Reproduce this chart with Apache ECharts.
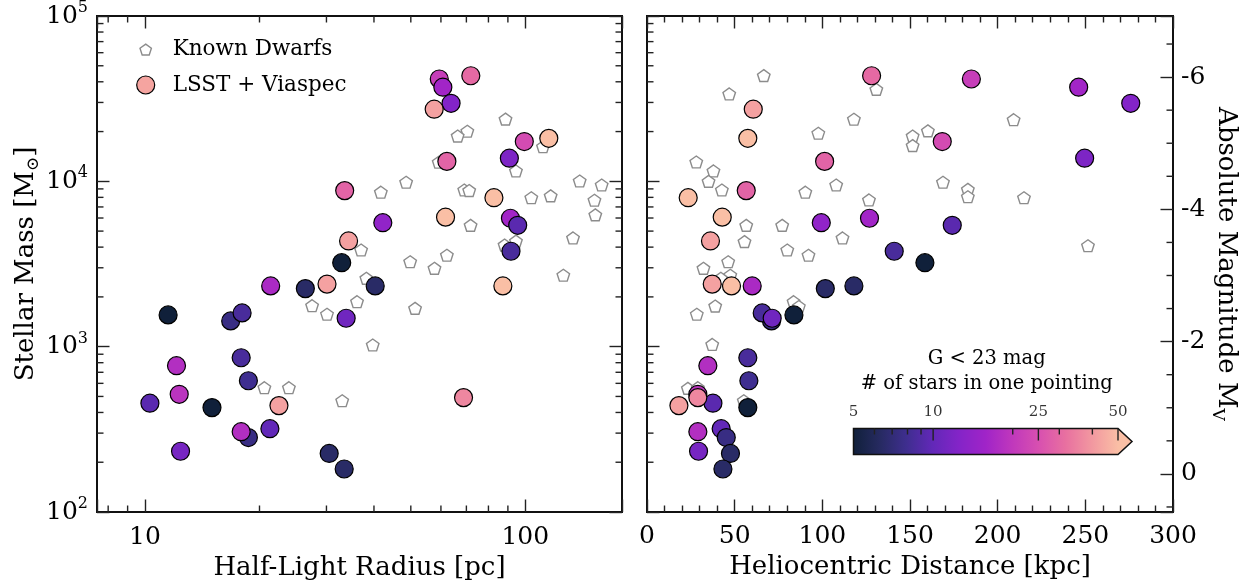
<!DOCTYPE html>
<html>
<head>
<meta charset="utf-8">
<script src="https://cdn.jsdelivr.net/npm/echarts@6/dist/echarts.min.js"></script>
<style>
  html, body { margin: 0; padding: 0; background: #fff; }
  #chart { width: 1250px; height: 581px; }
</style>
</head>
<body>
<div id="chart"></div>
<script>
// ---- LSST + Viaspec candidates ----
const lsstMass = [41600, 43500, 37100, 29650, 27300, 17400, 18200, 13800, 13200, 8790,
                  7960, 6070, 5620, 5980, 5420, 4360, 3777, 3220, 2390, 2330,
                  2330, 2245, 2330, 1556, 1431, 1600, 1485, 857, 767, 622,
                  515, 455, 428, 440, 319, 282, 306, 233, 226, 182, 492];
const lsstRh = [59.4, 71.9, 60.7, 63.8, 57.6, 99.4, 115.3, 90.8, 62.2, 33.5,
                82.7, 61.7, 42.2, 91.4, 95.5, 34.3, 91.7, 32.9, 30.1, 87.3,
                21.4, 26.4, 40.3, 11.5, 16.8, 18.0, 33.8, 17.9, 12.1, 18.7,
                12.3, 10.3, 15.0, 22.5, 21.3, 18.7, 17.9, 12.4, 30.5, 33.4, 68.8];
const lsstDist = [185.0, 128.1, 246.2, 275.9, 60.6, 168.4, 57.5, 249.6, 101.3, 56.6,
                  23.5, 42.9, 99.4, 126.9, 174.1, 36.2, 141.0, 158.5, 37.2, 48.2,
                  60.0, 101.7, 118.0, 83.8, 71.0, 65.7, 71.4, 57.5, 34.7, 58.1,
                  29.0, 37.6, 57.5, 18.2, 42.3, 45.2, 29.0, 29.4, 47.6, 43.3, 29.0];
// number of G < 23 stars in one pointing
const lsstStars = [21, 30, 16, 12.5, 42, 24, 55, 12, 29, 29,
                   55, 55, 14, 16, 9.5, 42, 8.5, 5, 42, 55,
                   17, 6.5, 6.5, 5, 7.5, 8.5, 11, 8.5, 18, 8,
                   19, 9.5, 5, 42, 10, 7.5, 18, 11.5, 6.5, 6.5, 36];

// ---- Known dwarfs: size panel ----
const knownRh = [88.7, 70.4, 66.4, 111.3, 59.2, 94.5, 139, 48.6, 158.8, 69.1,
                 71.2, 41.7, 116.6, 103.7, 152, 152.8, 71.8, 133.5, 94.5, 88.2,
                 37.0, 62.2, 49.8, 57.7, 125.9, 38.2, 36.1, 27.5, 51.3, 30.1,
                 39.7, 20.6, 23.9, 33.0];
const knownMassRh = [23800, 20100, 18800, 16200, 13050, 11560, 10050, 9880, 9510, 8870,
                     8800, 8600, 8170, 7960, 7690, 6270, 5420, 4550, 4350, 4120,
                     3845, 3575, 3265, 2980, 2705, 2593, 1871, 1771, 1706, 1571,
                     1024, 565, 565, 471];

// ---- Known dwarfs: distance panel ----
const knownDist = [66.6, 130.8, 46.9, 118, 209.1, 160.2, 97.7, 151.5, 151.5, 28.1,
                   37.9, 35.1, 168.8, 107.9, 183, 42.7, 90.3, 183, 215, 126.6,
                   56.6, 77.1, 111.5, 55.6, 251.5, 80, 92.1, 46.3, 32.2, 47.5,
                   42.1, 83.6, 38.9, 86.6, 28.4, 37.2, 23.3, 29, 55.2];
const knownMassDist = [43600, 36000, 33800, 23750, 23600, 20200, 19540, 18800, 16450, 13100,
                       11560, 10000, 9880, 9510, 8950, 8870, 8600, 8070, 7960, 7720,
                       5420, 5420, 4550, 4320, 4080, 3845, 3575, 3265, 2980, 2705,
                       2593, 1871, 1762, 1750, 1571, 1032, 560, 565, 471];

// ---- Tick values ----
const massMinorTicks = [200, 300, 400, 500, 600, 700, 800, 900,
                        2000, 3000, 4000, 5000, 6000, 7000, 8000, 9000,
                        20000, 30000, 40000, 50000, 60000, 70000, 80000, 90000];
const rhMinorTicks = [8, 9, 20, 30, 40, 50, 60, 70, 80, 90];
const magMinorTicks = [-6.5, -5.5, -5, -4.5, -3.5, -3, -2.5, -1.5, -1, -0.5, 0.5];
const cbMajorTicks = [10, 25, 50];
const cbMinorTicks = [6, 7, 8, 9, 20, 30, 40];
const cbTickLabels = [5, 10, 25, 50];

// colour scale for the star counts (log-spaced from 5 to 50)
const cmapColors = ['#10203a', '#262a60', '#3e2e8e', '#6228b8', '#8424c8', '#a024c8',
                    '#c038bc', '#d850b0', '#e870a0', '#f298a0', '#fabfa5'];

// ---- Layout ----
const FONT = '"DejaVu Serif", "Liberation Serif", serif';
const RH_MIN = 7.477, RH_MAX = 179.6;
const M_MIN = 1e2, M_MAX = 1e5;
const D_MIN = 0, D_MAX = 300;
const MASS_AT_MV0 = 170;               // mass for which M_V = 0 (fixed M/L)
const MV_TOP = -2.5 * Math.log10(M_MAX / MASS_AT_MV0);
const MV_BOTTOM = -2.5 * Math.log10(M_MIN / MASS_AT_MV0);
const CB_N_MIN = 5, CB_N_MAX = 50;

const G0 = { left: 97, top: 16, width: 525, height: 496 };
const G1 = { left: 647, top: 16, width: 526, height: 496 };
const CB = { left: 853.5, top: 428.5, width: 264.5, height: 26, arrow: 14 };

const AXIS_FS = 25, TITLE_FS = 26;
const TICK = '#222', TICK_W = 1.4, MAJOR = 12.5, MINOR = 6.5;
const tickStyle = { show: true, inside: true, length: MAJOR, lineStyle: { color: TICK, width: TICK_W } };
const minorStyle = { show: true, splitNumber: 5, length: MINOR, lineStyle: { color: TICK, width: TICK_W } };

const PENT = 'path://M1,0 L1.951,0.691 L1.588,1.809 L0.412,1.809 L0.049,0.691 Z';
const PENT_ICON = 'path://M-0.5,-0.6 M2.5,2.4 M1,0 L1.951,0.691 L1.588,1.809 L0.412,1.809 L0.049,0.691 Z';

const isPow10 = v => Math.abs(Math.log10(v) - Math.round(Math.log10(v))) < 1e-6;
const powLabel = v => isPow10(v) ? '{b|10}{s|' + Math.round(Math.log10(v)) + '}' : '';
const plainPowLabel = v => isPow10(v) ? String(Math.round(v)) : '';
const colourValue = n => Math.min(Math.max(Math.log10(n), Math.log10(CB_N_MIN)), Math.log10(CB_N_MAX));

const labelRich = {
  b: { fontSize: AXIS_FS, lineHeight: 32, fontFamily: FONT, color: '#000' },
  s: { fontSize: 16, lineHeight: 20, verticalAlign: 'top', fontFamily: FONT, color: '#000' }
};
const nameRich = {
  t: { fontSize: TITLE_FS, lineHeight: 32, fontFamily: FONT, color: '#000' },
  sub: { fontSize: 17, lineHeight: 20, verticalAlign: 'bottom', fontFamily: FONT, color: '#000' }
};

const bare = { axisLine: { show: false, onZero: false }, splitLine: { show: false } };

function tickSeries(xi, yi, pts, size, offset) {
  return {
    type: 'scatter', xAxisIndex: xi, yAxisIndex: yi, data: pts,
    symbol: 'rect', symbolSize: size, symbolOffset: offset,
    itemStyle: { color: TICK, opacity: 1 }, silent: true, clip: false, z: 5,
    emphasis: { disabled: true }
  };
}

const knownStyle = { color: '#fff', borderColor: '#8c8c8c', borderWidth: 1.4, opacity: 1 };
const lsstStyle = { borderColor: '#000', borderWidth: 1.2, opacity: 1 };

// colour bar fill, stretched over the bar plus its extension arrow
const cbFrac = CB.width / (CB.width + CB.arrow);
const cbStops = cmapColors.map((c, i) => ({ offset: (i / (cmapColors.length - 1)) * cbFrac, color: c }));
cbStops.push({ offset: 1, color: cmapColors[cmapColors.length - 1] });

const gridBase = {
  show: true, borderColor: '#111', borderWidth: 2, backgroundColor: 'transparent',
  containLabel: false, outerBoundsMode: 'none'
};

const chart = echarts.init(document.getElementById('chart'), null, { renderer: 'canvas' });

const option = {
  animation: false,
  backgroundColor: '#fff',
  textStyle: { fontFamily: FONT, color: '#000' },
  grid: [
    Object.assign({}, gridBase, G0),
    Object.assign({}, gridBase, G1),
    { left: CB.left, top: CB.top, width: CB.width, height: CB.height, show: false, outerBoundsMode: 'none' }
  ],
  legend: {
    left: 136, top: 38.5, padding: 0, orient: 'vertical', itemWidth: 44, itemHeight: 18, itemGap: 13.5,
    selectedMode: false,
    textStyle: { fontSize: 21.5, color: '#000', fontFamily: FONT },
    data: [
      { name: 'Known Dwarfs', icon: PENT_ICON, itemStyle: knownStyle },
      { name: 'LSST + Viaspec', icon: 'circle', itemStyle: { color: '#f5a4a0', borderColor: '#000', borderWidth: 1.2, opacity: 1 } }
    ]
  },
  visualMap: {
    type: 'continuous', show: false, dimension: 2, seriesIndex: [1, 3],
    min: Math.log10(CB_N_MIN), max: Math.log10(CB_N_MAX),
    inRange: { color: cmapColors }
  },
  xAxis: [
    Object.assign({
      gridIndex: 0, type: 'log', min: RH_MIN, max: RH_MAX, position: 'bottom',
      axisTick: tickStyle, minorTick: { show: false },
      axisLabel: { formatter: plainPowLabel, fontSize: AXIS_FS, color: '#000', margin: 13, fontFamily: FONT },
      name: 'Half-Light Radius [pc]', nameLocation: 'middle', nameGap: 41,
      nameTextStyle: { fontSize: TITLE_FS, color: '#000', fontFamily: FONT }
    }, bare),
    Object.assign({
      gridIndex: 0, type: 'log', min: RH_MIN, max: RH_MAX, position: 'top',
      axisTick: tickStyle, minorTick: { show: false }, axisLabel: { show: false }
    }, bare),
    Object.assign({
      gridIndex: 1, type: 'value', min: D_MIN, max: D_MAX, interval: 50, position: 'bottom',
      axisTick: tickStyle, minorTick: minorStyle,
      axisLabel: { fontSize: AXIS_FS, color: '#000', margin: 12, fontFamily: FONT },
      name: 'Heliocentric Distance [kpc]', nameLocation: 'middle', nameGap: 41,
      nameTextStyle: { fontSize: TITLE_FS, color: '#000', fontFamily: FONT }
    }, bare),
    Object.assign({
      gridIndex: 1, type: 'value', min: D_MIN, max: D_MAX, interval: 50, position: 'top',
      axisTick: tickStyle, minorTick: minorStyle, axisLabel: { show: false }
    }, bare),
    { gridIndex: 2, type: 'log', min: CB_N_MIN, max: CB_N_MAX, show: false }
  ],
  yAxis: [
    Object.assign({
      gridIndex: 0, type: 'log', min: M_MIN, max: M_MAX, position: 'left',
      axisTick: tickStyle, minorTick: { show: false },
      axisLabel: { formatter: powLabel, margin: 9, rich: labelRich },
      name: '{t|Stellar Mass [M}{sub|⊙}{t|]}', nameLocation: 'middle', nameRotate: 90, nameGap: 54,
      nameTextStyle: { rich: nameRich }
    }, bare),
    Object.assign({
      gridIndex: 0, type: 'log', min: M_MIN, max: M_MAX, position: 'right',
      axisTick: tickStyle, minorTick: { show: false }, axisLabel: { show: false }
    }, bare),
    Object.assign({
      gridIndex: 1, type: 'log', min: M_MIN, max: M_MAX, position: 'left',
      axisTick: tickStyle, minorTick: { show: false }, axisLabel: { show: false }
    }, bare),
    Object.assign({
      gridIndex: 1, type: 'value', min: MV_TOP, max: MV_BOTTOM, inverse: true, splitNumber: 4, position: 'right',
      axisTick: tickStyle, minorTick: { show: false },
      axisLabel: {
        formatter: v => Math.abs(v - Math.round(v)) < 1e-6 ? String(Math.round(v)) : '',
        fontSize: AXIS_FS, color: '#000', margin: 8, fontFamily: FONT
      },
      name: '{t|Absolute Magnitude M}{sub|V}', nameLocation: 'middle', nameRotate: -90, nameGap: 36,
      nameTextStyle: { rich: nameRich }
    }, bare),
    { gridIndex: 2, type: 'value', min: 0, max: 1, show: false }
  ],
  graphic: [
    {
      type: 'polygon', z: 1, silent: true,
      shape: {
        points: [
          [CB.left, CB.top], [CB.left + CB.width, CB.top],
          [CB.left + CB.width + CB.arrow, CB.top + CB.height / 2],
          [CB.left + CB.width, CB.top + CB.height], [CB.left, CB.top + CB.height]
        ]
      },
      style: {
        fill: new echarts.graphic.LinearGradient(0, 0, 1, 0, cbStops),
        stroke: '#111', lineWidth: 1.5
      }
    },
    {
      type: 'text', silent: true,
      style: {
        text: 'G < 23 mag', x: CB.left + CB.width / 2 + 1, y: CB.top - 70,
        align: 'center', verticalAlign: 'middle', fontSize: 19.5, fontFamily: FONT, fill: '#000'
      }
    },
    {
      type: 'text', silent: true,
      style: {
        text: '# of stars in one pointing', x: CB.left + CB.width / 2 + 1, y: CB.top - 45,
        align: 'center', verticalAlign: 'middle', fontSize: 19.5, fontFamily: FONT, fill: '#000'
      }
    }
  ],
  series: [
    {
      name: 'Known Dwarfs', type: 'scatter', xAxisIndex: 0, yAxisIndex: 0,
      data: knownRh.map((r, i) => [r, knownMassRh[i]]),
      symbol: PENT, symbolSize: [12.5, 11.9], itemStyle: knownStyle, z: 2, emphasis: { disabled: true }
    },
    {
      name: 'LSST + Viaspec', type: 'scatter', xAxisIndex: 0, yAxisIndex: 0,
      data: lsstRh.map((r, i) => [r, lsstMass[i], colourValue(lsstStars[i])]),
      symbol: 'circle', symbolSize: 18, itemStyle: lsstStyle, z: 3, emphasis: { disabled: true }
    },
    {
      name: 'Known Dwarfs', type: 'scatter', xAxisIndex: 2, yAxisIndex: 2,
      data: knownDist.map((d, i) => [d, knownMassDist[i]]),
      symbol: PENT, symbolSize: [12.5, 11.9], itemStyle: knownStyle, z: 2, emphasis: { disabled: true }
    },
    {
      name: 'LSST + Viaspec', type: 'scatter', xAxisIndex: 2, yAxisIndex: 2,
      data: lsstDist.map((d, i) => [d, lsstMass[i], colourValue(lsstStars[i])]),
      symbol: 'circle', symbolSize: 18, itemStyle: lsstStyle, z: 3, emphasis: { disabled: true }
    },
    // minor ticks of the logarithmic axes
    tickSeries(0, 0, rhMinorTicks.map(v => [v, M_MIN]), [TICK_W, MINOR], [0, -MINOR / 2]),
    tickSeries(0, 0, rhMinorTicks.map(v => [v, M_MAX]), [TICK_W, MINOR], [0, MINOR / 2]),
    tickSeries(0, 0, massMinorTicks.map(m => [RH_MIN, m]), [MINOR, TICK_W], [MINOR / 2, 0]),
    tickSeries(0, 0, massMinorTicks.map(m => [RH_MAX, m]), [MINOR, TICK_W], [-MINOR / 2, 0]),
    tickSeries(2, 2, massMinorTicks.map(m => [D_MIN, m]), [MINOR, TICK_W], [MINOR / 2, 0]),
    tickSeries(2, 3, magMinorTicks.map(v => [D_MAX, v]), [MINOR, TICK_W], [-MINOR / 2, 0]),
    // colour bar ticks and labels
    tickSeries(4, 4, cbMajorTicks.map(v => [v, 1]), [TICK_W, 12], [0, 6]),
    tickSeries(4, 4, cbMinorTicks.map(v => [v, 1]), [TICK_W, 6], [0, 3]),
    {
      type: 'scatter', xAxisIndex: 4, yAxisIndex: 4, silent: true, clip: false,
      data: cbTickLabels.map(v => [v, 1]),
      symbol: 'circle', symbolSize: 1, itemStyle: { color: 'rgba(0,0,0,0)' },
      label: {
        show: true, position: 'top', distance: 8, formatter: p => String(p.value[0]),
        fontSize: 15, color: '#000', fontFamily: FONT
      },
      emphasis: { disabled: true }
    }
  ]
};

chart.setOption(option);
</script>
</body>
</html>
